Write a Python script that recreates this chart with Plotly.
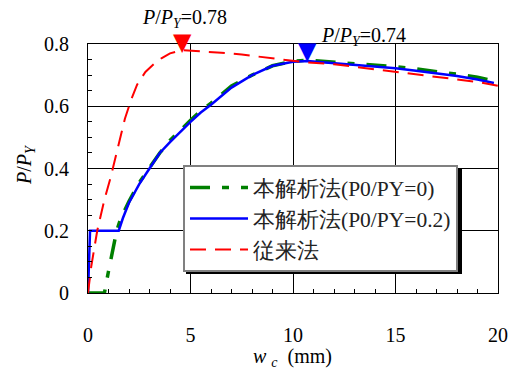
import plotly.graph_objects as go

# P0/PY = 0 (green dash)
x_g = [0, 0.8, 1.0, 1.2, 1.4, 1.6, 2.0, 2.5, 3.0, 3.5, 4.0, 4.6, 5.0, 5.5, 6.0, 7.0, 8.0, 9.0, 10.0, 10.7, 12, 13, 14, 15, 16, 17, 18, 19, 19.8]
y_g = [0, 0, 0.07, 0.14, 0.2, 0.24, 0.295, 0.355, 0.405, 0.45, 0.49, 0.53, 0.555, 0.585, 0.61, 0.665, 0.70, 0.73, 0.745, 0.748, 0.742, 0.737, 0.732, 0.727, 0.72, 0.712, 0.703, 0.693, 0.682]
# P0/PY = 0.2 (blue solid)
x_b = [0, 0.05, 0.1, 1.5, 1.7, 2.0, 2.5, 3.0, 3.5, 4.0, 4.6, 5.0, 5.5, 6.0, 7.0, 8.0, 9.0, 10.0, 10.7, 12, 13, 14, 15, 16, 17, 18, 19, 19.8]
y_b = [0, 0.12, 0.2, 0.2, 0.24, 0.29, 0.35, 0.40, 0.45, 0.485, 0.525, 0.55, 0.58, 0.605, 0.66, 0.70, 0.73, 0.743, 0.745, 0.738, 0.732, 0.727, 0.722, 0.714, 0.706, 0.697, 0.686, 0.675]
# conventional method (red dash)
x_r = [0, 0.16, 0.45, 0.8, 1.1, 1.4, 1.8, 2.1, 2.4, 2.8, 3.2, 3.6, 4.0, 4.6, 5.5, 6.5, 7.5, 8.5, 9.5, 10.5, 12, 13, 14, 15, 16, 17, 18, 19, 20]
y_r = [0, 0.086, 0.2, 0.3, 0.37, 0.45, 0.56, 0.62, 0.67, 0.71, 0.735, 0.755, 0.77, 0.78, 0.777, 0.772, 0.766, 0.758, 0.75, 0.742, 0.735, 0.727, 0.72, 0.712, 0.704, 0.696, 0.688, 0.678, 0.666]

names = ["本解析法(P0/PY=0)", "本解析法(P0/PY=0.2)", "従来法"]
peak_x = [4.6, 10.7]
peak_y = [0.78, 0.74]
peak_labels = ["<i>P</i>/<i>P</i><sub><i>Y</i></sub>=0.78", "<i>P</i>/<i>P</i><sub><i>Y</i></sub>=0.74"]
x_ticks = [0, 5, 10, 15, 20]
y_ticks = [0, 0.2, 0.4, 0.6, 0.8]
y_ticklabels = ["0", "0.2", "0.4", "0.6", "0.8"]

FONT = "Liberation Serif"

fig = go.Figure()
fig.add_trace(go.Scatter(x=x_g, y=y_g, mode="lines", name=names[0],
                         line=dict(color="#008000", width=3.5, dash="20px,12px,7px,12px")))
fig.add_trace(go.Scatter(x=x_b, y=y_b, mode="lines", name=names[1],
                         line=dict(color="#0000ff", width=2.5)))
fig.add_trace(go.Scatter(x=x_r, y=y_r, mode="lines", name=names[2],
                         line=dict(color="#ff0000", width=2, dash="16px,9px")))

marker_colors = ["#ff0000", "#0000ff"]
marker_py = [(293 - 42) / 249, (293 - 51) / 249]
label_px = [4.7, 13.44]
label_py = [(293 - 18) / 249, (293 - 36) / 249]
for i in range(2):
    fig.add_annotation(x=peak_x[i], y=marker_py[i], yref="paper", text="▼", showarrow=False,
                       xanchor="center", yanchor="middle",
                       font=dict(size=24, color=marker_colors[i], family="DejaVu Sans"))
    fig.add_annotation(x=label_px[i], y=label_py[i], yref="paper", text=peak_labels[i], showarrow=False,
                       xanchor="center", yanchor="middle", font=dict(size=20, color="black", family=FONT))
fig.add_annotation(xref="paper", yref="paper", x=(25 - 88) / 410, y=(293 - 165) / 249,
                   text="<i>P</i>/<i>P</i><sub><i>Y</i></sub>", textangle=-90, showarrow=False,
                   xanchor="center", yanchor="middle", font=dict(size=20, color="black", family=FONT))
fig.add_annotation(xref="paper", yref="paper", x=(292 - 88) / 410, y=(293 - 357) / 249,
                   text="<i>w</i> <sub><i>c</i></sub>  (mm)", showarrow=False,
                   xanchor="center", yanchor="middle", font=dict(size=20, color="black", family=FONT))

# legend drop shadow (legend box ~183..459 x 165..270 px)
fig.add_shape(type="rect", xref="paper", yref="paper",
              x0=(186 - 88) / 410, x1=(462 - 88) / 410,
              y0=(293 - 274) / 249, y1=(293 - 168) / 249,
              fillcolor="black", line=dict(width=0), layer="above")

fig.update_layout(
    width=509, height=374,
    margin=dict(l=88, r=11, t=44, b=81, autoexpand=False),
    paper_bgcolor="white", plot_bgcolor="white",
    font=dict(family=FONT, size=20, color="black"),
    showlegend=True,
    legend=dict(x=(183 - 88) / 410, y=(293 - 165) / 249, xanchor="left", yanchor="top",
                bgcolor="white", bordercolor="#808080", borderwidth=2,
                font=dict(size=21.5, family=FONT, color="#222222"), itemwidth=58,
                tracegroupgap=0),
)
fig.update_xaxes(range=[0, 20], tickvals=x_ticks, ticktext=[str(v) for v in x_ticks],
                 automargin=False,
                 showline=True, linecolor="black", linewidth=1, mirror=True,
                 showgrid=True, gridcolor="black", gridwidth=1, zeroline=False,
                 ticks="inside", ticklen=4, tickcolor="black", ticklabelstandoff=24,
                 minor=dict(dtick=1, ticks="inside", ticklen=4, tickcolor="black", showgrid=False),
                 tickfont=dict(size=20, family=FONT))
fig.update_yaxes(range=[0, 0.8], tickvals=y_ticks, ticktext=y_ticklabels,
                 automargin=False,
                 showline=True, linecolor="black", linewidth=1, mirror=True,
                 showgrid=True, gridcolor="black", gridwidth=1, zeroline=False,
                 ticks="inside", ticklen=4, tickcolor="black", ticklabelstandoff=14,
                 minor=dict(dtick=0.05, ticks="inside", ticklen=4, tickcolor="black", showgrid=False),
                 tickfont=dict(size=20, family=FONT))

fig.write_html("out.html")
